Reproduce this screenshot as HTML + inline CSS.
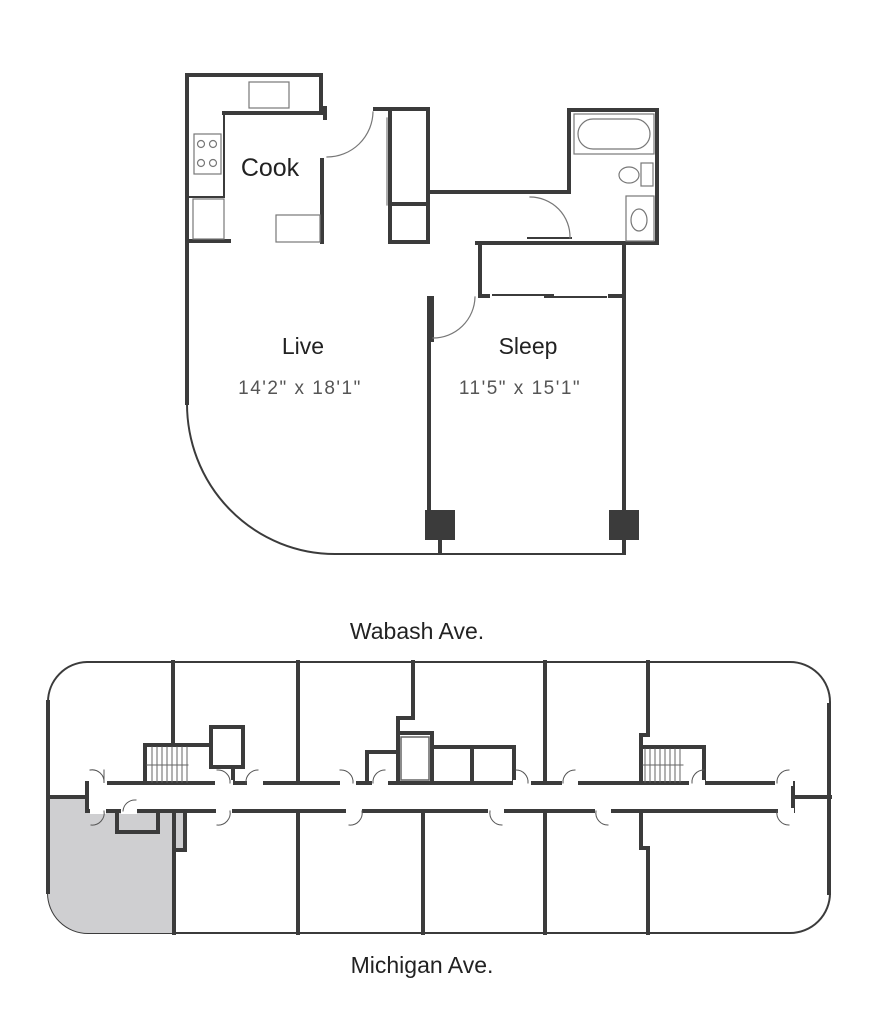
<!DOCTYPE html>
<html><head><meta charset="utf-8"><style>
html,body{margin:0;padding:0;background:#fff}
svg{display:block}
text{font-family:"Liberation Sans",sans-serif}
</style></head><body>
<svg width="869" height="1024" viewBox="0 0 869 1024" xmlns="http://www.w3.org/2000/svg">
<g fill="none" stroke="#3b3b3b" stroke-linecap="square">
<!-- TOP PLAN thick walls -->
<g stroke-width="4">
<path d="M187 403 V75 H321 V113"/>
<path d="M321 108 H325 V118"/>
<path d="M322 160 V242"/>
<path d="M224 113 H321"/>
<path d="M187 241 H229"/>
<path d="M375 109 H428 V192 H569 V110 H657 V243 H477"/>
<path d="M390 110 V242 H428 V192"/>
<path d="M390 204 H428"/>
<path d="M480 245 V296 H488"/>
<path d="M610 296 H624 V510"/>
<path d="M624 245 V296"/>
<path d="M429 510 V298 H432 V340"/>
<path d="M440 540 V553 M624 540 V553"/>
</g>
<g stroke-width="2">
<path d="M224 113 V197 H189"/>
<path d="M187 403 A148 150 0 0 0 335 554 H624"/>
<path d="M493 295 H553 M545 297 H606"/>
<path d="M528 238 H571"/>
</g>
<rect x="425" y="510" width="30" height="30" fill="#3b3b3b" stroke="none"/>
<rect x="609" y="510" width="30" height="30" fill="#3b3b3b" stroke="none"/>
<!-- fixtures -->
<g stroke="#777" stroke-width="1.2">
<rect x="249" y="82" width="40" height="26"/>
<rect x="194" y="134" width="27" height="40"/>
<circle cx="201" cy="144" r="3.5"/><circle cx="213" cy="144" r="3.5"/>
<circle cx="201" cy="163" r="3.5"/><circle cx="213" cy="163" r="3.5"/>
<rect x="193" y="199" width="31" height="40"/>
<rect x="276" y="215" width="44" height="27"/>
<rect x="574" y="114" width="80" height="40"/>
<rect x="578" y="119" width="72" height="30" rx="15"/>
<ellipse cx="629" cy="175" rx="10" ry="8"/>
<rect x="641" y="163" width="12" height="23"/>
<rect x="626" y="196" width="28" height="45"/>
<ellipse cx="639" cy="220" rx="8" ry="11"/>
<path d="M327 157 A46 46 0 0 0 373 112"/>
<path d="M530 197 A40 40 0 0 1 570 238"/>
<path d="M433 338 A42 42 0 0 0 475 297"/>
<path d="M387 118 V205"/>
</g>

<!-- BOTTOM PLAN -->
<path d="M87 662 H790 A40 40 0 0 1 830 702 V893 A40 40 0 0 1 790 933 H88 A40 40 0 0 1 48 893 V702 A40 40 0 0 1 87 662 Z" stroke-width="2"/>
<path d="M48 797 H87 V811 H185 V850 H174 V933 H88 A40 40 0 0 1 48 893 Z" fill="#cfcfd1" stroke="none"/>
<path d="M48 702 V892 M829 705 V893" stroke-width="4"/>
<g stroke-width="4">
<path d="M48 797 H87 M795 797 H830"/>
<path d="M87 783 H793 M87 811 H793"/>
<path d="M87 783 V811 M793 783 V811"/>
<path d="M173 662 V745 M145 783 V745 H211"/>
<path d="M211 727 H243 V767 H211 Z M233 767 V783"/>
<path d="M298 662 V783 M298 811 V933"/>
<path d="M413 662 V718 H398 V783"/>
<path d="M367 783 V752 H398"/>
<path d="M398 733 H432 V783 M432 747 H514 V783 M472 747 V783"/>
<path d="M423 811 V933 M545 662 V783 M545 811 V933"/>
<path d="M648 662 V735 H641 V783 M641 747 H704 V783"/>
<path d="M641 811 V848 H648 V933"/>
<path d="M174 811 V933 M185 811 V850 H174"/>
<path d="M117 811 V832 H158 V811"/>
</g>
<g stroke="#fff" stroke-width="6">
<path d="M92 783 H104 M218 783 H230 M250 783 H260 M343 783 H353 M375 783 H385 M516 783 H528 M565 783 H575 M692 783 H702 M778 783 H790"/>
<path d="M93 811 H103 M124 811 H134 M219 811 H229 M349 811 H359 M491 811 H501 M598 811 H608 M781 811 H791"/>
</g>
<g stroke="#555" stroke-width="1">
<path d="M90 770 A12 12 0 0 1 104 783 V770"/>
<path d="M217 770 A12 12 0 0 1 230 783"/><path d="M258 770 A12 12 0 0 0 246 783"/>
<path d="M340 770 A12 12 0 0 1 353 783"/><path d="M385 770 A12 12 0 0 0 373 783"/>
<path d="M516 770 A12 12 0 0 1 528 783"/><path d="M575 770 A12 12 0 0 0 563 783"/>
<path d="M704 770 A12 12 0 0 0 692 783"/><path d="M789 770 A12 12 0 0 0 777 783"/>
<path d="M91 825 A12 12 0 0 0 104 811"/><path d="M136 800 A12 12 0 0 0 123 811"/>
<path d="M217 825 A12 12 0 0 0 230 811"/><path d="M349 825 A12 12 0 0 0 362 811"/>
<path d="M502 825 A12 12 0 0 1 490 811"/><path d="M608 825 A12 12 0 0 1 596 811"/>
<path d="M789 825 A12 12 0 0 1 777 811"/>
</g>
<g stroke="#666" stroke-width="1">
<path d="M152 747 V782 M157 747 V782 M162 747 V782 M167 747 V782 M172 747 V782 M177 747 V782 M182 747 V782 M187 747 V782 M147 765 H188"/>
<path d="M645 749 V782 M650 749 V782 M655 749 V782 M660 749 V782 M665 749 V782 M670 749 V782 M675 749 V782 M680 749 V782 M643 765 H683"/>
<rect x="401" y="737" width="28" height="43" stroke-width="1.5"/>
</g>
</g>
<g fill="#222">
<text x="270" y="176" font-size="25" text-anchor="middle">Cook</text>
<text x="303" y="354" font-size="23" text-anchor="middle">Live</text>
<text x="528" y="354" font-size="23" text-anchor="middle">Sleep</text>
<text x="300" y="394" font-size="19" fill="#555" text-anchor="middle" letter-spacing="1.5">14'2" x 18'1"</text>
<text x="520" y="394" font-size="19" fill="#555" text-anchor="middle" letter-spacing="1.5">11'5" x 15'1"</text>
<text x="417" y="639" font-size="23" text-anchor="middle">Wabash Ave.</text>
<text x="422" y="973" font-size="23" text-anchor="middle">Michigan Ave.</text>
</g>
</svg>
</body></html>
